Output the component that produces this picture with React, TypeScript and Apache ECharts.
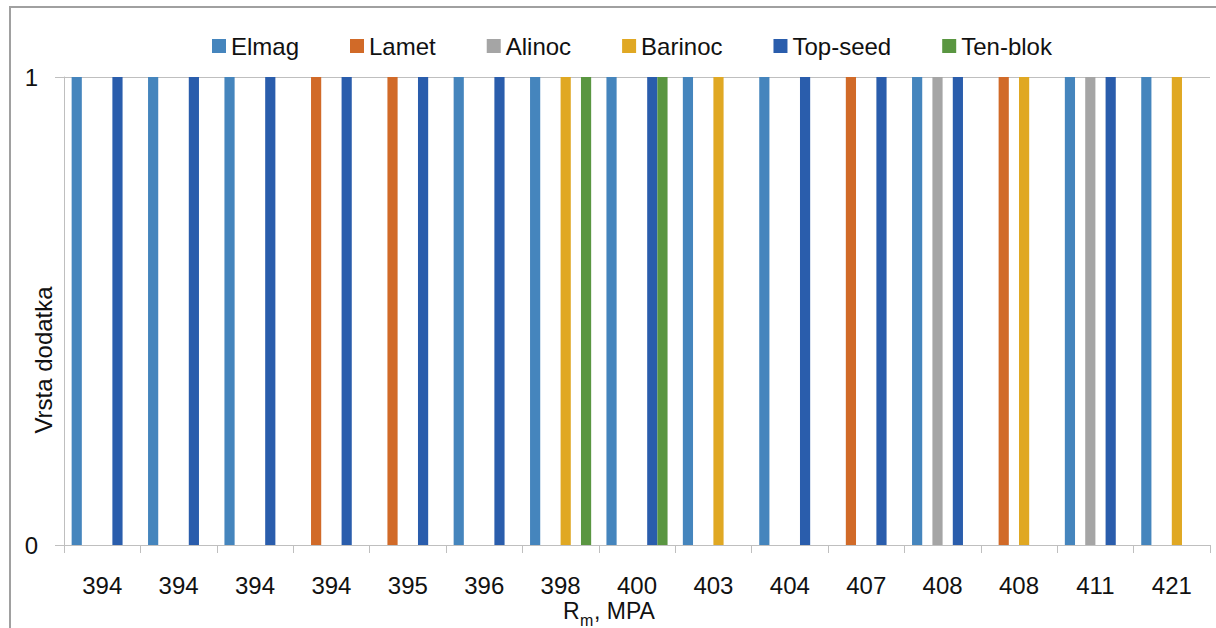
import React, { useEffect, useRef } from "react";
import * as echarts from "echarts";

const categories = ["394", "394", "394", "394", "395", "396", "398", "400", "403", "404", "407", "408", "408", "411", "421"];
const seriesNames = ["Elmag", "Lamet", "Alinoc", "Barinoc", "Top-seed", "Ten-blok"];
const elmag = [1, 1, 1, 0, 0, 1, 1, 1, 1, 1, 0, 1, 0, 1, 1];
const lamet = [0, 0, 0, 1, 1, 0, 0, 0, 0, 0, 1, 0, 1, 0, 0];
const alinoc = [0, 0, 0, 0, 0, 0, 0, 0, 0, 0, 0, 1, 0, 1, 0];
const barinoc = [0, 0, 0, 0, 0, 0, 1, 0, 1, 0, 0, 0, 1, 0, 1];
const topSeed = [1, 1, 1, 1, 1, 1, 0, 1, 0, 1, 1, 1, 0, 1, 0];
const tenBlok = [0, 0, 0, 0, 0, 0, 1, 1, 0, 0, 0, 0, 0, 0, 0];
const seriesValues = [elmag, lamet, alinoc, barinoc, topSeed, tenBlok];
const colors = ["#4585BD", "#D16A28", "#A5A5A5", "#E0A823", "#2A5DAC", "#5A9641"];
const yTicks = [0, 1];

const FONT = "'Liberation Sans', Arial, sans-serif";
const TEXT = "#111111";
const AXIS = "#BFBFBF";

export default function App() {
  const ref = useRef<HTMLDivElement>(null);
  useEffect(() => {
    if (!ref.current) return;
    const chart = echarts.init(ref.current, null, { renderer: "svg" });
    chart.setOption({
      animation: false,
      backgroundColor: "#ffffff",
      textStyle: { fontFamily: FONT },
      grid: { left: 64, right: 6, top: 77, bottom: 83, containLabel: false },
      legend: {
        data: seriesNames,
        left: 212,
        top: 34,
        padding: 0,
        icon: "rect",
        itemWidth: 14,
        itemHeight: 14,
        itemGap: 51,
        textStyle: { fontSize: 24, color: TEXT, fontFamily: FONT },
      },
      xAxis: {
        type: "category",
        data: categories,
        axisLine: { show: true, lineStyle: { color: AXIS, width: 1 } },
        axisTick: { show: true, length: 8, lineStyle: { color: AXIS } },
        axisLabel: { fontSize: 24, color: TEXT, margin: 28, interval: 0, fontFamily: FONT },
      },
      yAxis: {
        type: "value",
        min: yTicks[0],
        max: yTicks[yTicks.length - 1],
        interval: 1,
        axisLine: { show: true, lineStyle: { color: AXIS, width: 1 } },
        axisTick: { show: true, length: 9, lineStyle: { color: AXIS } },
        splitLine: { show: true, lineStyle: { color: AXIS, width: 1 } },
        axisLabel: { fontSize: 24, color: TEXT, margin: 26, fontFamily: FONT },
      },
      series: seriesNames.map((name, i) => ({
        name,
        type: "bar",
        data: seriesValues[i],
        itemStyle: { color: colors[i] },
        barGap: "0%",
        barCategoryGap: "20%",
      })),
      color: colors,
      graphic: [
        {
          type: "rect",
          silent: true,
          shape: { x: 10, y: 7, width: 1230, height: 660 },
          style: { fill: "none", stroke: "#A0A0A0", lineWidth: 2 },
        },
        {
          type: "text",
          x: 43,
          y: 360,
          rotation: Math.PI / 2,
          style: {
            text: "Vrsta dodatka",
            fontSize: 24,
            fontFamily: FONT,
            fill: TEXT,
            align: "center",
            verticalAlign: "middle",
          },
        },
        {
          type: "group",
          children: [
            {
              type: "text",
              x: 563,
              y: 611,
              style: { text: "R", fontSize: 23, fontFamily: FONT, fill: TEXT, align: "left", verticalAlign: "middle" },
            },
            {
              type: "text",
              x: 580,
              y: 620,
              style: { text: "m", fontSize: 16, fontFamily: FONT, fill: TEXT, align: "left", verticalAlign: "middle" },
            },
            {
              type: "text",
              x: 594,
              y: 611,
              style: { text: ", MPA", fontSize: 23, fontFamily: FONT, fill: TEXT, align: "left", verticalAlign: "middle" },
            },
          ],
        },
      ],
    });
    return () => chart.dispose();
  }, []);
  return <div ref={ref} style={{ position: "fixed", left: 0, top: 0, width: 1216, height: 628 }} />;
}
